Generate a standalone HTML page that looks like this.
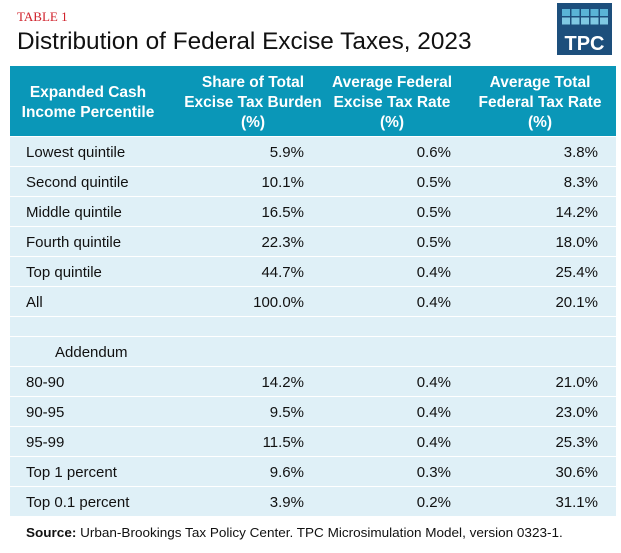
<!DOCTYPE html>
<html><head><meta charset="utf-8"><style>
body{margin:0;width:621px;height:553px;background:#fff;position:relative;font-family:"Liberation Sans",sans-serif;overflow:hidden}
.abs{position:absolute}
.hd{position:absolute;top:68px;height:70px;display:flex;align-items:center;justify-content:center;text-align:center;color:#fff;font-weight:bold;font-size:15.5px;line-height:20px;white-space:nowrap}
.row{position:absolute;left:10px;width:606px;height:29px;background:#dff0f7;font-size:15px;color:#111}
.row span{position:absolute;top:7px;line-height:17px}
.c0{left:16px}
.c1{right:312px}.c2{right:165px}.c3{right:18px}
</style></head><body>
<div class="abs" style="left:17px;top:9px;font-family:'Liberation Serif',serif;color:#d0202a;font-size:13px;">TABLE 1</div>
<div class="abs" style="left:17px;top:28px;font-size:24px;color:#111;transform:scaleX(1.015);transform-origin:0 0;white-space:nowrap">Distribution of Federal Excise Taxes, 2023</div>
<div class="abs" style="left:557px;top:3px;width:55px;height:52px;background:#1d4f7c;">
<svg width="55" height="52">
<g fill="#5ab4d6">
<rect x="5" y="6" width="8" height="7"/><rect x="14.5" y="6" width="8" height="7"/><rect x="24" y="6" width="8" height="7"/><rect x="33.5" y="6" width="8" height="7"/><rect x="43" y="6" width="8" height="7"/>
</g><g fill="#7fc8e2">
<rect x="5" y="14.5" width="8" height="7"/><rect x="14.5" y="14.5" width="8" height="7"/><rect x="24" y="14.5" width="8" height="7"/><rect x="33.5" y="14.5" width="8" height="7"/><rect x="43" y="14.5" width="8" height="7"/>
</g>
<text x="27.5" y="47" text-anchor="middle" fill="#fff" font-family="Liberation Sans" font-weight="bold" font-size="20">TPC</text>
</svg></div>
<div class="abs" style="left:10px;top:66px;width:606px;height:70px;background:#0a97b8"></div>
<div class="hd" style="left:10px;width:156px">Expanded Cash<br>Income Percentile</div>
<div class="hd" style="left:173px;width:160px">Share of Total<br>Excise Tax Burden<br>(%)</div>
<div class="hd" style="left:317px;width:150px">Average Federal<br>Excise Tax Rate<br>(%)</div>
<div class="hd" style="left:460px;width:160px">Average Total<br>Federal Tax Rate<br>(%)</div>

<div class="row" style="top:137px"><span class="c0">Lowest quintile</span><span class="c1">5.9%</span><span class="c2">0.6%</span><span class="c3">3.8%</span></div>
<div class="row" style="top:167px"><span class="c0">Second quintile</span><span class="c1">10.1%</span><span class="c2">0.5%</span><span class="c3">8.3%</span></div>
<div class="row" style="top:197px"><span class="c0">Middle quintile</span><span class="c1">16.5%</span><span class="c2">0.5%</span><span class="c3">14.2%</span></div>
<div class="row" style="top:227px"><span class="c0">Fourth quintile</span><span class="c1">22.3%</span><span class="c2">0.5%</span><span class="c3">18.0%</span></div>
<div class="row" style="top:257px"><span class="c0">Top quintile</span><span class="c1">44.7%</span><span class="c2">0.4%</span><span class="c3">25.4%</span></div>
<div class="row" style="top:287px"><span class="c0">All</span><span class="c1">100.0%</span><span class="c2">0.4%</span><span class="c3">20.1%</span></div>
<div class="row" style="top:317px;height:19px"></div>
<div class="row" style="top:337px"><span class="c0" style="left:45px">Addendum</span></div>
<div class="row" style="top:367px"><span class="c0">80-90</span><span class="c1">14.2%</span><span class="c2">0.4%</span><span class="c3">21.0%</span></div>
<div class="row" style="top:397px"><span class="c0">90-95</span><span class="c1">9.5%</span><span class="c2">0.4%</span><span class="c3">23.0%</span></div>
<div class="row" style="top:427px"><span class="c0">95-99</span><span class="c1">11.5%</span><span class="c2">0.4%</span><span class="c3">25.3%</span></div>
<div class="row" style="top:457px"><span class="c0">Top 1 percent</span><span class="c1">9.6%</span><span class="c2">0.3%</span><span class="c3">30.6%</span></div>
<div class="row" style="top:487px"><span class="c0">Top 0.1 percent</span><span class="c1">3.9%</span><span class="c2">0.2%</span><span class="c3">31.1%</span></div>
<div class="abs" style="left:26px;top:525px;font-size:13px;color:#111;white-space:nowrap;transform:scaleX(1.04);transform-origin:0 0"><b>Source:</b> Urban-Brookings Tax Policy Center. TPC Microsimulation Model, version 0323-1.</div>
</body></html>
